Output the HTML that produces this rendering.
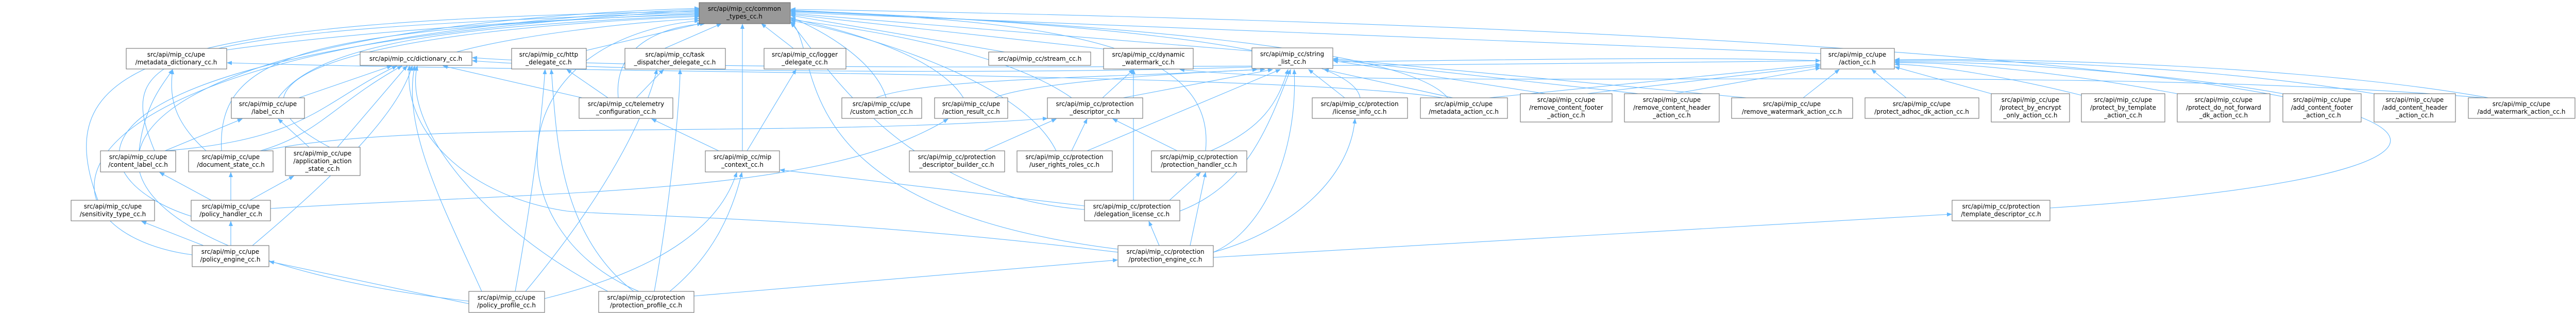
<!DOCTYPE html>
<html><head><meta charset="utf-8"><style>
html,body{margin:0;padding:0;background:#fff;}
svg{display:block;}
text{font-family:"DejaVu Sans","Liberation Sans",sans-serif;font-size:12px;fill:#000;text-anchor:middle;}
.n{fill:#fff;stroke:#666;stroke-width:1;}
.e{fill:none;stroke:#63b8ff;stroke-width:1.1;marker-end:url(#a);}
</style></head><body>
<svg width="5032" height="608" viewBox="0 0 5032 608" xmlns="http://www.w3.org/2000/svg">
<defs><marker id="a" markerWidth="10" markerHeight="8" refX="9" refY="4" orient="auto" markerUnits="userSpaceOnUse"><path d="M0,0 L10,4 L0,8 z" fill="#63b8ff"/></marker></defs>
<g>
<!-- edges into common_types left -->
<path class="e" d="M440,97 C700,60 1100,35 1357,28"/>
<path class="e" d="M300,293 C220,100 300,60 1357,24"/>
<path class="e" d="M430,293 C420,100 600,60 1357,26"/>
<path class="e" d="M190,389 C90,120 300,40 1357,22"/>
<path class="e" d="M371,420 C150,350 20,100 1357,20"/>
<path class="e" d="M373,495 C40,450 20,80 1357,18"/>
<path class="e" d="M910,585 C0,480 -20,60 1357,16"/>
<path class="e" d="M540,190 C620,80 900,50 1357,30"/>
<path class="e" d="M640,286 C380,150 700,60 1357,32"/>
<path class="e" d="M886,101 C1000,70 1200,45 1357,36"/>
<path class="e" d="M1138,98 L1362,45"/>
<path class="e" d="M1290,94 L1400,46"/>
<path class="e" d="M1540,94 L1478,46"/>
<path class="e" d="M1441,293 L1441,47"/>
<path class="e" d="M1240,566 C960,450 960,80 1357,40"/>
<path class="e" d="M1200,190 C1190,80 1300,50 1368,46"/>
<!-- into common_types right -->
<path class="e" d="M1950,101 L1535,30"/>
<path class="e" d="M2150,96 L1535,28"/>
<path class="e" d="M2440,100 L1535,26"/>
<path class="e" d="M3534,104 L1535,24"/>
<path class="e" d="M1720,190 C1700,120 1600,60 1535,34"/>
<path class="e" d="M1870,190 C1820,110 1650,60 1535,36"/>
<path class="e" d="M2080,190 C1950,100 1700,60 1535,38"/>
<path class="e" d="M2050,293 C1980,150 1650,60 1535,40"/>
<path class="e" d="M2340,293 C2360,100 2100,40 1535,22"/>
<path class="e" d="M2640,190 C2620,80 2000,40 1535,20"/>
<path class="e" d="M2810,190 C2720,80 2000,40 1535,21"/>
<path class="e" d="M2170,484 C1500,400 1600,100 1535,42"/>
<path class="e" d="M2105,407 C1750,380 1600,120 1535,44"/>
<path class="e" d="M3979,404 C5100,330 5100,80 1535,18"/>
<!-- metadata_dictionary -->
<path class="e" d="M270,293 C280,200 320,160 335,135"/>
<path class="e" d="M400,293 C330,230 330,180 335,135"/>
<path class="e" d="M2800,190 C2500,140 1000,140 441,122"/>
<!-- dictionary -->
<path class="e" d="M580,190 L760,128"/>
<path class="e" d="M320,293 C600,270 620,200 770,128"/>
<path class="e" d="M505,293 C620,260 650,200 780,128"/>
<path class="e" d="M655,286 L790,128"/>
<path class="e" d="M490,477 C700,300 780,200 800,128"/>
<path class="e" d="M935,566 C860,400 780,250 805,128"/>
<path class="e" d="M1180,566 C950,450 780,250 810,128"/>
<path class="e" d="M1130,190 L860,128"/>
<path class="e" d="M2432,130 C2000,145 1200,140 917,118"/>
<path class="e" d="M3534,118 C2500,130 1300,140 917,112"/>
<path class="e" d="M2170,490 C1600,420 1200,420 1100,410 C900,380 780,250 795,128"/>
<!-- http / task / logger / telemetry -->
<path class="e" d="M1180,190 L1100,135"/>
<path class="e" d="M1000,566 C1030,400 1050,250 1058,135"/>
<path class="e" d="M1230,566 C1080,450 1080,250 1070,135"/>
<path class="e" d="M1235,190 L1288,135"/>
<path class="e" d="M1270,566 C1300,400 1320,200 1320,135"/>
<path class="e" d="M1020,566 C1200,350 1260,200 1275,135"/>
<path class="e" d="M1450,293 L1545,135"/>
<path class="e" d="M1395,293 L1265,231"/>
<!-- label / content / policy -->
<path class="e" d="M320,293 L470,231"/>
<path class="e" d="M600,286 L540,231"/>
<path class="e" d="M410,389 L310,335"/>
<path class="e" d="M448,389 L448,335"/>
<path class="e" d="M485,389 L570,342"/>
<path class="e" d="M395,477 L275,430"/>
<path class="e" d="M448,477 L448,430"/>
<path class="e" d="M910,590 L523,508"/>
<!-- mip context -->
<path class="e" d="M1057,580 C1300,520 1400,430 1430,335"/>
<path class="e" d="M1300,566 C1380,500 1420,420 1440,335"/>
<path class="e" d="M2105,400 L1514,330"/>
<!-- action_result / prot descriptor -->
<path class="e" d="M525,405 C1100,370 1600,380 1840,231"/>
<path class="e" d="M1910,293 L2050,231"/>
<path class="e" d="M2080,293 L2110,231"/>
<path class="e" d="M2285,293 L2160,231"/>
<path class="e" d="M510,293 C800,230 1500,270 2033,230"/>
<!-- dynamic watermark -->
<path class="e" d="M2140,190 L2200,135"/>
<path class="e" d="M2200,389 L2200,135"/>
<path class="e" d="M4820,190 C4000,120 2700,180 2290,135"/>
<!-- string list -->
<path class="e" d="M1700,190 C1800,150 2200,150 2440,135"/>
<path class="e" d="M1930,190 C2000,160 2300,140 2455,135"/>
<path class="e" d="M2180,190 L2470,135"/>
<path class="e" d="M2110,293 L2485,135"/>
<path class="e" d="M2350,293 C2450,250 2480,200 2500,135"/>
<path class="e" d="M2290,410 C2420,360 2460,250 2505,135"/>
<path class="e" d="M2355,490 C2450,450 2520,300 2512,135"/>
<path class="e" d="M2610,190 L2540,135"/>
<path class="e" d="M2820,190 L2570,135"/>
<path class="e" d="M3000,182 L2588,118"/>
<path class="e" d="M3180,182 L2588,116"/>
<path class="e" d="M3390,190 L2588,114"/>
<path class="e" d="M2600,120 C3000,115 3300,110 3533,118"/>
<!-- protection handler / delegation / engine -->
<path class="e" d="M2270,389 L2330,335"/>
<path class="e" d="M2310,477 L2340,335"/>
<path class="e" d="M2250,477 L2230,430"/>
<path class="e" d="M2355,490 C2500,450 2620,350 2630,231"/>
<path class="e" d="M2355,500 L3788,416"/>
<path class="e" d="M1347,575 L2169,505"/>
<!-- action_cc -->
<path class="e" d="M2890,190 L3533,125"/>
<path class="e" d="M3080,182 L3533,128"/>
<path class="e" d="M3250,182 L3533,132"/>
<path class="e" d="M3500,190 L3570,135"/>
<path class="e" d="M3700,190 L3633,135"/>
<path class="e" d="M3865,182 L3678,130"/>
<path class="e" d="M4040,185 C3900,150 3750,125 3678,125"/>
<path class="e" d="M4226,182 C4000,140 3800,120 3678,122"/>
<path class="e" d="M4431,182 C4200,140 3850,118 3678,120"/>
<path class="e" d="M4608,182 C4300,130 3900,115 3678,118"/>
<path class="e" d="M4830,190 C4500,130 3950,112 3678,116"/>
</g>
<g>
<rect x="1357" y="5" width="177" height="41" fill="#999" stroke="#666"/>
<text x="1445" y="21">src/api/mip_cc/common</text><text x="1445" y="36">_types_cc.h</text>

<rect class="n" x="245" y="94" width="195" height="40"/><text x="342" y="110">src/api/mip_cc/upe</text><text x="342" y="125">/metadata_dictionary_cc.h</text>
<rect class="n" x="699" y="101" width="217" height="26"/><text x="807" y="118">src/api/mip_cc/dictionary_cc.h</text>
<rect class="n" x="993" y="94" width="145" height="40"/><text x="1065" y="110">src/api/mip_cc/http</text><text x="1065" y="125">_delegate_cc.h</text>
<rect class="n" x="1213" y="94" width="195" height="40"/><text x="1310" y="110">src/api/mip_cc/task</text><text x="1310" y="125">_dispatcher_delegate_cc.h</text>
<rect class="n" x="1483" y="94" width="159" height="40"/><text x="1562" y="110">src/api/mip_cc/logger</text><text x="1562" y="125">_delegate_cc.h</text>
<rect class="n" x="1919" y="101" width="198" height="26"/><text x="2018" y="118">src/api/mip_cc/stream_cc.h</text>
<rect class="n" x="2142" y="94" width="174" height="40"/><text x="2229" y="110">src/api/mip_cc/dynamic</text><text x="2229" y="125">_watermark_cc.h</text>
<rect class="n" x="2430" y="93" width="157" height="40"/><text x="2508" y="109">src/api/mip_cc/string</text><text x="2508" y="124">_list_cc.h</text>
<rect class="n" x="3534" y="94" width="143" height="40"/><text x="3605" y="110">src/api/mip_cc/upe</text><text x="3605" y="125">/action_cc.h</text>

<rect class="n" x="449" y="190" width="142" height="40"/><text x="520" y="206">src/api/mip_cc/upe</text><text x="520" y="221">/label_cc.h</text>
<rect class="n" x="1124" y="190" width="182" height="40"/><text x="1215" y="206">src/api/mip_cc/telemetry</text><text x="1215" y="221">_configuration_cc.h</text>
<rect class="n" x="1634" y="190" width="155" height="40"/><text x="1711" y="206">src/api/mip_cc/upe</text><text x="1711" y="221">/custom_action_cc.h</text>
<rect class="n" x="1814" y="190" width="142" height="40"/><text x="1885" y="206">src/api/mip_cc/upe</text><text x="1885" y="221">/action_result_cc.h</text>
<rect class="n" x="2033" y="190" width="185" height="40"/><text x="2125" y="206">src/api/mip_cc/protection</text><text x="2125" y="221">_descriptor_cc.h</text>
<rect class="n" x="2547" y="190" width="185" height="40"/><text x="2639" y="206">src/api/mip_cc/protection</text><text x="2639" y="221">/license_info_cc.h</text>
<rect class="n" x="2757" y="190" width="169" height="40"/><text x="2841" y="206">src/api/mip_cc/upe</text><text x="2841" y="221">/metadata_action_cc.h</text>
<rect class="n" x="2951" y="182" width="178" height="55"/><text x="3040" y="198">src/api/mip_cc/upe</text><text x="3040" y="213">/remove_content_footer</text><text x="3040" y="228">_action_cc.h</text>
<rect class="n" x="3153" y="182" width="184" height="55"/><text x="3245" y="198">src/api/mip_cc/upe</text><text x="3245" y="213">/remove_content_header</text><text x="3245" y="228">_action_cc.h</text>
<rect class="n" x="3361" y="190" width="235" height="40"/><text x="3478" y="206">src/api/mip_cc/upe</text><text x="3478" y="221">/remove_watermark_action_cc.h</text>
<rect class="n" x="3620" y="190" width="221" height="40"/><text x="3730" y="206">src/api/mip_cc/upe</text><text x="3730" y="221">/protect_adhoc_dk_action_cc.h</text>
<rect class="n" x="3865" y="182" width="152" height="55"/><text x="3941" y="198">src/api/mip_cc/upe</text><text x="3941" y="213">/protect_by_encrypt</text><text x="3941" y="228">_only_action_cc.h</text>
<rect class="n" x="4040" y="182" width="162" height="55"/><text x="4121" y="198">src/api/mip_cc/upe</text><text x="4121" y="213">/protect_by_template</text><text x="4121" y="228">_action_cc.h</text>
<rect class="n" x="4226" y="182" width="180" height="55"/><text x="4316" y="198">src/api/mip_cc/upe</text><text x="4316" y="213">/protect_do_not_forward</text><text x="4316" y="228">_dk_action_cc.h</text>
<rect class="n" x="4431" y="182" width="152" height="55"/><text x="4507" y="198">src/api/mip_cc/upe</text><text x="4507" y="213">/add_content_footer</text><text x="4507" y="228">_action_cc.h</text>
<rect class="n" x="4608" y="182" width="158" height="55"/><text x="4687" y="198">src/api/mip_cc/upe</text><text x="4687" y="213">/add_content_header</text><text x="4687" y="228">_action_cc.h</text>
<rect class="n" x="4791" y="190" width="207" height="40"/><text x="4894" y="206">src/api/mip_cc/upe</text><text x="4894" y="221">/add_watermark_action_cc.h</text>

<rect class="n" x="195" y="293" width="146" height="41"/><text x="268" y="309">src/api/mip_cc/upe</text><text x="268" y="324">/content_label_cc.h</text>
<rect class="n" x="366" y="293" width="164" height="41"/><text x="448" y="309">src/api/mip_cc/upe</text><text x="448" y="324">/document_state_cc.h</text>
<rect class="n" x="554" y="286" width="145" height="55"/><text x="626" y="302">src/api/mip_cc/upe</text><text x="626" y="317">/application_action</text><text x="626" y="332">_state_cc.h</text>
<rect class="n" x="1369" y="293" width="144" height="41"/><text x="1441" y="309">src/api/mip_cc/mip</text><text x="1441" y="324">_context_cc.h</text>
<rect class="n" x="1765" y="293" width="185" height="41"/><text x="1857" y="309">src/api/mip_cc/protection</text><text x="1857" y="324">_descriptor_builder_cc.h</text>
<rect class="n" x="1974" y="293" width="185" height="41"/><text x="2066" y="309">src/api/mip_cc/protection</text><text x="2066" y="324">/user_rights_roles_cc.h</text>
<rect class="n" x="2235" y="293" width="185" height="41"/><text x="2327" y="309">src/api/mip_cc/protection</text><text x="2327" y="324">/protection_handler_cc.h</text>

<rect class="n" x="138" y="389" width="162" height="40"/><text x="219" y="405">src/api/mip_cc/upe</text><text x="219" y="420">/sensitivity_type_cc.h</text>
<rect class="n" x="371" y="389" width="154" height="40"/><text x="448" y="405">src/api/mip_cc/upe</text><text x="448" y="420">/policy_handler_cc.h</text>
<rect class="n" x="2105" y="389" width="185" height="40"/><text x="2197" y="405">src/api/mip_cc/protection</text><text x="2197" y="420">/delegation_license_cc.h</text>
<rect class="n" x="3789" y="389" width="190" height="40"/><text x="3884" y="405">src/api/mip_cc/protection</text><text x="3884" y="420">/template_descriptor_cc.h</text>

<rect class="n" x="373" y="477" width="149" height="41"/><text x="447" y="493">src/api/mip_cc/upe</text><text x="447" y="508">/policy_engine_cc.h</text>
<rect class="n" x="2170" y="477" width="185" height="41"/><text x="2262" y="493">src/api/mip_cc/protection</text><text x="2262" y="508">/protection_engine_cc.h</text>
<rect class="n" x="910" y="566" width="147" height="41"/><text x="983" y="582">src/api/mip_cc/upe</text><text x="983" y="597">/policy_profile_cc.h</text>
<rect class="n" x="1162" y="566" width="185" height="41"/><text x="1254" y="582">src/api/mip_cc/protection</text><text x="1254" y="597">/protection_profile_cc.h</text>
</g>
</svg>
</body></html>
